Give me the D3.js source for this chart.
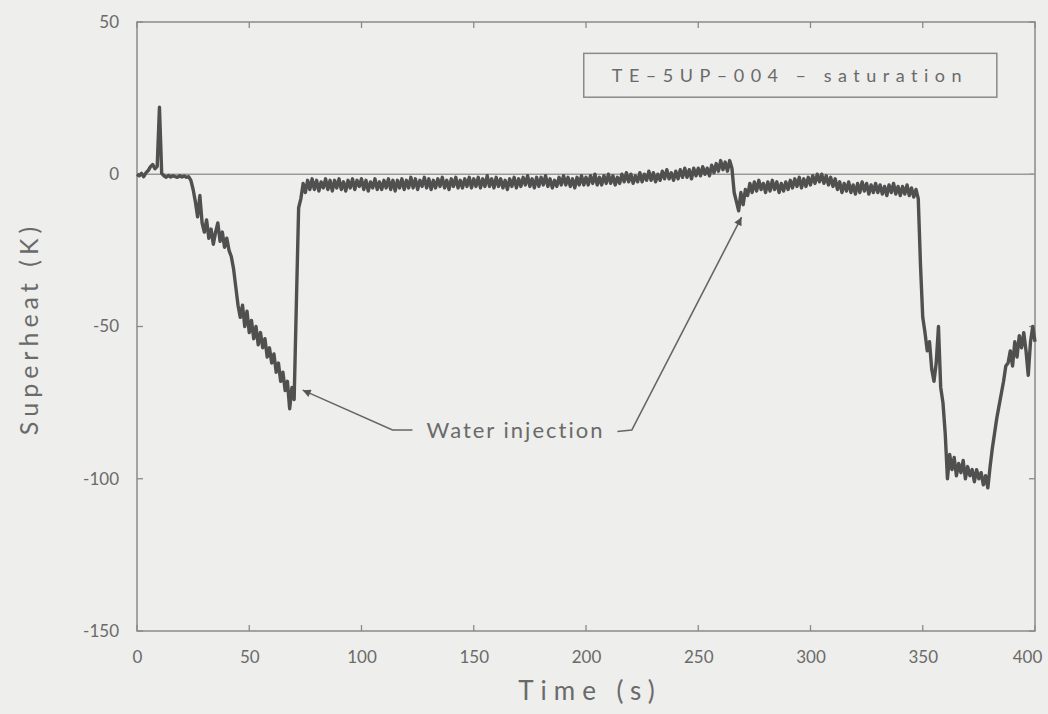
<!DOCTYPE html>
<html>
<head>
<meta charset="utf-8">
<script src="https://cdn.jsdelivr.net/npm/d3@7"></script>
<style>
  html, body { margin: 0; padding: 0; background: #eeeeec; }
  svg { display: block; }
  text { font-family: Lato, "DejaVu Sans", sans-serif; fill: #6a6a6a; }
</style>
</head>
<body>
<svg id="chart" width="1048" height="714"></svg>
<script>
// ---- data ----
const xTicks = [0, 50, 100, 150, 200, 250, 300, 350, 400];
const xTickLabels = ["0", "50", "100", "150", "200", "250", "300", "350", "400"];
const yTicks = [50, 0, -50, -100, -150];
const yTickLabels = ["50", "0", "-50", "-100", "-150"];
const seriesName = "TE\u20135UP\u2013004 \u2013 saturation";
const annotationText = "Water injection";
const timeStart = 0;       // s
const timeStep = 1;        // s, one sample per second
const superheat = [
  0, -0.5, 0.3, -0.8, 0.5, 1.2, 2.5, 3.2, 1.8, 2.6,
  22, 0.3, -0.5, -1, -0.4, -0.9, -0.5, -0.8, -1, -0.5,
  -0.9, -0.6, -1, -0.8, -2, -5, -9, -14, -7, -16,
  -19, -15, -21, -18, -23, -19, -16, -22, -19, -24,
  -21, -25, -27, -31, -37, -43, -47, -43, -50, -45,
  -52, -48, -54, -50, -56, -52, -57, -54, -60, -57,
  -62, -59, -65, -62, -68, -65, -71, -68, -77, -70,
  -74, -42, -11, -8, -3, -6, -2, -5, -1.5, -5,
  -2, -5.5, -2.5, -4.5, -1.5, -5, -2, -5.5, -2, -4.5,
  -1.5, -5, -2.5, -5.5, -2, -4.5, -1.5, -5, -2, -4,
  -1.5, -5, -2, -5.5, -2.5, -4.5, -1.5, -5, -2.5, -5,
  -2, -4.5, -1.5, -5, -2, -5.5, -2, -4.5, -1.5, -5,
  -2, -4.5, -1, -4.5, -1.5, -5, -2, -4, -1, -4.5,
  -1.5, -5, -2, -4.5, -1.5, -4, -1, -4.5, -2, -5,
  -1.5, -4, -1, -4.5, -2, -4.5, -1.5, -4, -1, -4.5,
  -1.5, -4, -1, -4.5, -1.5, -4, -0.5, -4, -1.5, -4.5,
  -1, -4, -1.5, -4.5, -2, -5, -1.5, -4, -1, -4.5,
  -1.5, -4, -1, -3.5, -0.5, -4, -1.5, -4.5, -1, -4,
  -1, -3.5, -0.5, -4, -1.5, -4.5, -2, -4, -1, -3.5,
  -0.5, -3.5, -1, -4, -1.5, -4.5, -1, -3.5, -0.5, -3.5,
  -1, -3.5, -0.5, -3, 0, -3.5, -1, -3.5, -0.5, -3,
  0, -3, -0.5, -3.5, -1, -3, 0, -2.5, 0.5, -2.5,
  0, -3, -0.5, -2.5, 0.5, -2.5, 0, -2, 1, -2,
  0.5, -2.5, 0, -2, 1, -1.5, 1.5, -1.5, 0.5, -2,
  1, -1.5, 1.5, -1, 2, -1, 1.5, -1.5, 2, -0.5,
  2, -0.5, 2.5, 0, 2, -0.5, 3, 0.5, 3.5, 1,
  4.5, 1.5, 4, 1, 4.5, 2, -6, -9, -12, -6,
  -10, -5, -7, -3, -6, -2.5, -5.5, -2, -5, -3,
  -6, -2.5, -5.5, -2, -5, -2.5, -6, -3, -5.5, -2.5,
  -5, -2, -4.5, -1.5, -4, -1, -4.5, -1.5, -4, -1,
  -3.5, -0.5, -3, 0, -2.5, 0, -3, -0.5, -3.5, -1,
  -4, -1.5, -5, -2.5, -6, -3, -5.5, -2.5, -6, -3.5,
  -6.5, -3, -6, -2.5, -5.5, -3, -6.5, -3.5, -6, -3,
  -6, -3.5, -6.5, -4, -7, -3.5, -6, -3, -6.5, -4,
  -7, -4, -6.5, -3.5, -7, -4.5, -7.5, -5, -8, -30,
  -47, -52, -58, -55, -64, -68, -62, -50, -70, -75,
  -85, -100, -92, -97, -93, -99, -95, -98, -94, -100,
  -96, -99, -97, -101, -97, -100, -98, -102, -99, -103,
  -96, -90, -85, -80, -76, -72, -68, -63, -62, -58,
  -63, -55, -60, -53, -57, -52, -58, -66, -55, -50,
  -55
];
// annotation anchor points in data units [time, superheat]
const arrowLeft = [[122.7, -84], [113.8, -84], [73.8, -70.9]];
const arrowRight = [[214, -84.5], [220.4, -84], [269.3, -14.1]];
const annotationPos = [129, -86.6];
const legendBox = [[199, 39.7], [383, 25.3]];
const legendTextPos = [289.5, 30.2];

// ---- drawing ----
const svg = d3.select("#chart");
const x = d3.scaleLinear().domain([0, 400]).range([137, 1035]);
const y = d3.scaleLinear().domain([-150, 50]).range([631, 22]);
const axisColor = "#8a8a8a";

const data = superheat.map((v, i) => ({ t: timeStart + i * timeStep, v }));

// frame
svg.append("rect")
  .attr("x", x(0)).attr("y", y(50))
  .attr("width", x(400) - x(0)).attr("height", y(-150) - y(50))
  .attr("fill", "none").attr("stroke", axisColor).attr("stroke-width", 1.5);

// inward ticks on all four sides
const tickLen = 6;
const gTicks = svg.append("g").attr("stroke", axisColor).attr("stroke-width", 1.3);
xTicks.forEach(t => {
  gTicks.append("line").attr("x1", x(t)).attr("x2", x(t)).attr("y1", y(-150)).attr("y2", y(-150) - tickLen);
  gTicks.append("line").attr("x1", x(t)).attr("x2", x(t)).attr("y1", y(50)).attr("y2", y(50) + tickLen);
});
yTicks.forEach(v => {
  gTicks.append("line").attr("x1", x(0)).attr("x2", x(0) + tickLen).attr("y1", y(v)).attr("y2", y(v));
  gTicks.append("line").attr("x1", x(400)).attr("x2", x(400) - tickLen).attr("y1", y(v)).attr("y2", y(v));
});

// tick labels
const xAxis = d3.axisBottom(x).tickValues(xTicks).tickSize(0).tickPadding(0)
  .tickFormat((d, i) => xTickLabels[i]);
const gx = svg.append("g").attr("transform", `translate(0,${y(-150) + 20})`).call(xAxis);
gx.select(".domain").remove();
gx.selectAll("text").attr("font-size", 17).attr("fill", "#6a6a6a")
  .style("font-family", "Lato, 'DejaVu Sans', sans-serif").attr("dy", "0.71em");
gx.selectAll("text").filter(d => d === 400).attr("dx", -8);

const yAxis = d3.axisLeft(y).tickValues(yTicks).tickSize(0).tickPadding(0)
  .tickFormat((d, i) => yTickLabels[i]);
const gy = svg.append("g").attr("transform", `translate(${x(0) - 18},0)`).call(yAxis);
gy.select(".domain").remove();
gy.selectAll("text").attr("font-size", 17).attr("fill", "#6a6a6a")
  .style("font-family", "Lato, 'DejaVu Sans', sans-serif");

// axis titles
svg.append("text")
  .attr("x", (x(0) + x(400)) / 2 + 4).attr("y", 700)
  .attr("text-anchor", "middle").attr("font-size", 26)
  .attr("letter-spacing", 7)
  .text("Time (s)");
svg.append("text")
  .attr("transform", `translate(38,${y(-50) + 2}) rotate(-90)`)
  .attr("text-anchor", "middle").attr("font-size", 25)
  .attr("letter-spacing", 5)
  .text("Superheat (K)");

// zero reference line
svg.append("line")
  .attr("x1", x(0)).attr("x2", x(400)).attr("y1", y(0)).attr("y2", y(0))
  .attr("stroke", "#9a9a9a").attr("stroke-width", 1.5);

// data trace
const line = d3.line().x(d => x(d.t)).y(d => y(d.v));
svg.append("path").datum(data)
  .attr("d", line)
  .attr("fill", "none").attr("stroke", "#505050")
  .attr("stroke-width", 3.4).attr("stroke-linejoin", "round");

// legend box
svg.append("rect")
  .attr("x", x(legendBox[0][0])).attr("y", y(legendBox[0][1]))
  .attr("width", x(legendBox[1][0]) - x(legendBox[0][0]))
  .attr("height", y(legendBox[1][1]) - y(legendBox[0][1]))
  .attr("fill", "none").attr("stroke", "#8a8a8a").attr("stroke-width", 1.5);
svg.append("text")
  .attr("x", x(legendTextPos[0]) + 3).attr("y", y(legendTextPos[1]))
  .attr("text-anchor", "middle").attr("font-size", 18)
  .attr("letter-spacing", 6.5)
  .text(seriesName);

// annotation
svg.append("defs").append("marker")
  .attr("id", "ah").attr("viewBox", "0 0 10 10")
  .attr("refX", 10).attr("refY", 5)
  .attr("markerWidth", 16).attr("markerHeight", 8)
  .attr("markerUnits", "userSpaceOnUse")
  .attr("orient", "auto")
  .append("path").attr("d", "M0,0 L10,5 L0,10 Z").attr("fill", "#555");
const aLine = d3.line().x(d => x(d[0])).y(d => y(d[1]));
[arrowLeft, arrowRight].forEach(pts => {
  svg.append("path").attr("d", aLine(pts))
    .attr("fill", "none").attr("stroke", "#666").attr("stroke-width", 1.6)
    .attr("marker-end", "url(#ah)");
});
svg.append("text")
  .attr("x", x(annotationPos[0])).attr("y", y(annotationPos[1]))
  .attr("font-size", 22).attr("fill", "#606060").attr("letter-spacing", 2)
  .text(annotationText);
</script>
</body>
</html>
